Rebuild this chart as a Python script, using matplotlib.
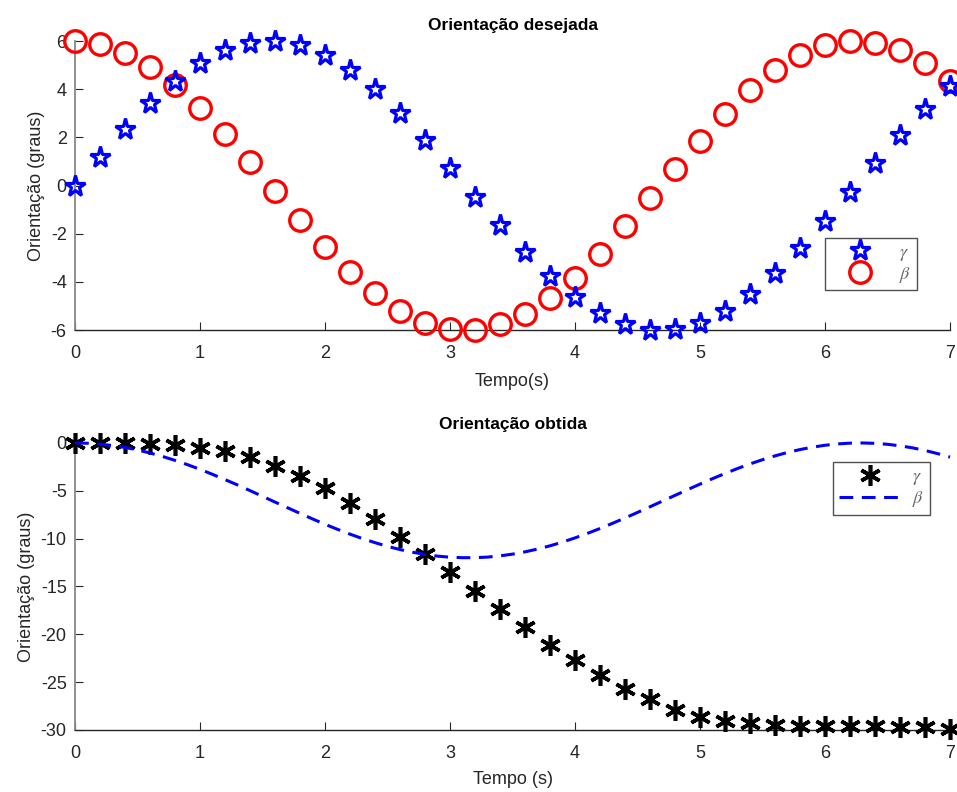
import numpy as np
import matplotlib
matplotlib.use("Agg")
import matplotlib.pyplot as plt

plt.rcParams['font.family'] = ['Liberation Sans', 'DejaVu Sans']
plt.rcParams['mathtext.fontset'] = 'stix'
plt.rcParams['axes.unicode_minus'] = False

# tempo das amostras (s)
t = np.linspace(0, 7, 36)

# Orientação desejada
gamma_des = [0.00, 1.20, 2.35, 3.41, 4.32, 5.07, 5.61, 5.92, 6.00, 5.83,
             5.43, 4.80, 3.99, 3.02, 1.91, 0.74, -0.47, -1.65, -2.77, -3.77,
             -4.62, -5.29, -5.76, -5.98, -5.96, -5.71, -5.21, -4.52, -3.63, -2.60,
             -1.47, -0.28, 0.93, 2.09, 3.17, 4.13]
beta_des = [6.00, 5.88, 5.52, 4.94, 4.16, 3.21, 2.13, 0.97, -0.23, -1.43,
            -2.56, -3.60, -4.48, -5.19, -5.69, -5.95, -5.98, -5.77, -5.32, -4.67,
            -3.83, -2.83, -1.68, -0.51, 0.70, 1.84, 2.98, 3.95, 4.78, 5.41,
            5.82, 5.99, 5.93, 5.62, 5.09, 4.35]

# Orientação obtida
gamma_obt = [0, 0, 0, -0.1, -0.25, -0.5, -0.85, -1.5, -2.4, -3.5,
             -4.75, -6.3, -7.9, -9.8, -11.6, -13.5, -15.5, -17.4, -19.2, -21.1,
             -22.7, -24.3, -25.7, -26.8, -27.9, -28.6, -29.1, -29.3, -29.5, -29.55,
             -29.6, -29.6, -29.6, -29.7, -29.7, -29.9]
t_beta = np.linspace(0, 7, 71)
beta_obt = [0.00, -0.03, -0.12, -0.27, -0.47, -0.73, -1.05, -1.41, -1.82, -2.27,
            -2.76, -3.28, -3.83, -4.39, -4.98, -5.58, -6.18, -6.77, -7.36, -7.94,
            -8.50, -9.03, -9.53, -10.00, -10.42, -10.81, -11.14, -11.42, -11.65, -11.83,
            -11.94, -11.99, -11.99, -11.93, -11.80, -11.62, -11.38, -11.09, -10.75, -10.36,
            -9.92, -9.45, -8.94, -8.40, -7.84, -7.26, -6.67, -6.07, -5.48, -4.88,
            -4.30, -3.73, -3.19, -2.67, -2.19, -1.75, -1.35, -0.99, -0.69, -0.44,
            -0.24, -0.10, -0.02, 0.00, -0.04, -0.14, -0.30, -0.51, -0.78, -1.11,
            -1.48]

TXT = '#262626'


def style_axes(ax):
    ax.spines['top'].set_visible(False)
    ax.spines['right'].set_visible(False)
    ax.spines['left'].set_color('#888888')
    ax.spines['bottom'].set_color(TXT)
    ax.spines['left'].set_linewidth(1.3)
    ax.spines['bottom'].set_linewidth(1.0)
    ax.tick_params(direction='in', length=6, width=0.8, colors=TXT,
                   labelsize=13)
    ax.tick_params(axis='x', pad=11)
    ax.tick_params(axis='y', pad=6)


def style_legend(leg):
    leg.get_frame().set_linewidth(1.0)
    for txt in leg.get_texts():
        txt.set_color('#666666')


fig = plt.figure(figsize=(9.57, 7.92), dpi=100)

# --- topo
ax1 = fig.add_axes([0.0784, 0.5833, 0.9143, 0.3649])
ax1.plot(t, gamma_des, linestyle='none', marker='*', markersize=15.5,
         markerfacecolor='none', markeredgecolor='blue', markeredgewidth=2.3,
         clip_on=False, zorder=4, label=r'$\gamma$')
ax1.plot(t, beta_des, linestyle='none', marker='o', markersize=15.5,
         markerfacecolor='none', markeredgecolor='red', markeredgewidth=2.4,
         clip_on=False, zorder=3, label=r'$\beta$')
ax1.set_xlim(0, 7)
ax1.set_ylim(-6, 6)
ax1.set_yticks([-6, -4, -2, 0, 2, 4, 6])
ax1.set_xticks(range(8))
ax1.set_title('Orientação desejada', fontsize=12.5, fontweight='bold', pad=8)
ax1.set_xlabel('Tempo(s)', fontsize=13, color=TXT, labelpad=8)
ax1.set_ylabel('Orientação (graus)', fontsize=13, color=TXT, labelpad=4)
style_axes(ax1)
leg1 = ax1.legend(loc='upper right', bbox_to_anchor=(0.962, 0.318),
                  borderaxespad=0, fontsize=13, handlelength=3.2,
                  handletextpad=0.6, borderpad=0.3, labelspacing=0.12,
                  fancybox=False, edgecolor=TXT)
style_legend(leg1)

# --- baixo
ax2 = fig.add_axes([0.0784, 0.0783, 0.9143, 0.3624])
ax2.plot(t, gamma_obt, linestyle='none', marker=(6, 2, 0), markersize=15,
         markeredgecolor='black', markeredgewidth=2.6, clip_on=False,
         zorder=3, label=r'$\gamma$')
ax2.plot(t_beta, beta_obt, color='blue', linewidth=2.2,
         linestyle=(0, (4.5, 2.8)), clip_on=False, zorder=4, label=r'$\beta$')
ax2.set_xlim(0, 7)
ax2.set_ylim(-30, 0)
ax2.set_yticks([-30, -25, -20, -15, -10, -5, 0])
ax2.set_xticks(range(8))
ax2.set_title('Orientação obtida', fontsize=12.5, fontweight='bold', pad=10)
ax2.set_xlabel('Tempo (s)', fontsize=13, color=TXT, labelpad=6)
ax2.set_ylabel('Orientação (graus)', fontsize=13, color=TXT, labelpad=4)
style_axes(ax2)
leg2 = ax2.legend(loc='upper right', bbox_to_anchor=(0.977, 0.935),
                  borderaxespad=0, fontsize=13, handlelength=3.4,
                  handletextpad=0.6, borderpad=0.35, labelspacing=0.12,
                  fancybox=False, edgecolor=TXT)
style_legend(leg2)

fig.savefig('out.png', dpi=100)
